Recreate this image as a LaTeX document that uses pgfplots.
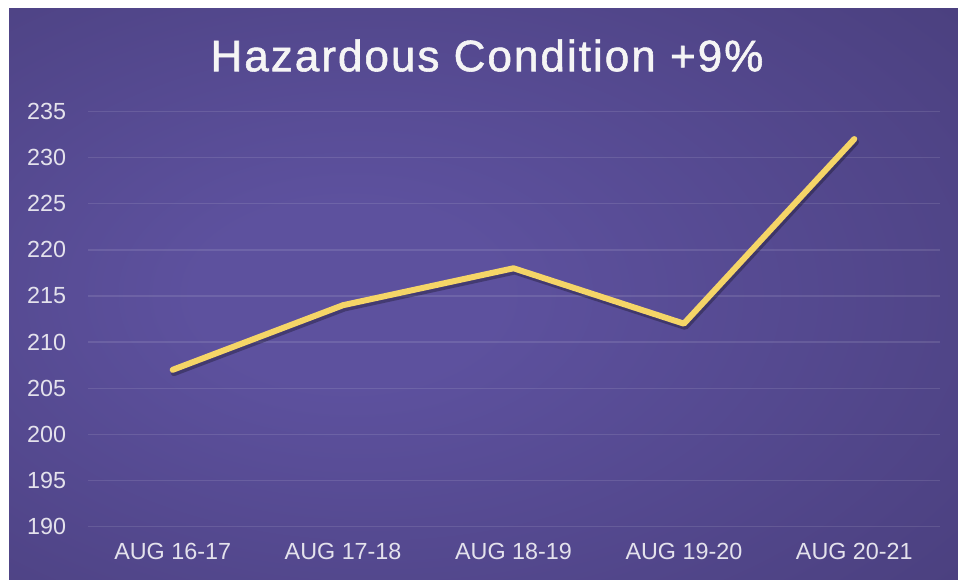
\documentclass[border=0pt]{standalone}
\usepackage{fontspec}
\setmainfont{Liberation Sans}
\newfontfamily\titlefont[LetterSpace=4.6,FakeBold=1.3]{Liberation Sans}
\usepackage{pgfplots}
\pgfplotsset{compat=1.18}
\definecolor{bginner}{HTML}{5D519E}
\definecolor{bgouter}{HTML}{3D3368}
\definecolor{lineyellow}{HTML}{F5D567}
\definecolor{ticktext}{HTML}{E4E2EC}
\pgfdeclareradialshading{bgshade}{\pgfpoint{-8bp}{0bp}}{color(0bp)=(bginner); color(8bp)=(bginner); color(62bp)=(bgouter); color(80bp)=(bgouter)}
\begin{document}
\begin{tikzpicture}
\begin{scope}[x=0.75pt,y=-0.75pt]
  \fill[white] (0,0) rectangle (958,580);
  \shade[shading=bgshade] (9,9) rectangle (958,580);
  \node[text=white!96!black,font=\titlefont\fontsize{33}{38}\selectfont] at (487,55.5) {Hazardous Condition +9\%};
  \coordinate (sw) at (87.5,526.7);
\end{scope}
\begin{axis}[
  at={(sw)}, anchor=south west,
  scale only axis,
  width=639pt, height=311.5pt,
  xmin=-0.5, xmax=4.5,
  ymin=190, ymax=235,
  ytick={190,195,...,235},
  xtick={0,1,2,3,4},
  xticklabels={AUG 16-17,AUG 17-18,AUG 18-19,AUG 19-20,AUG 20-21},
  axis line style={draw=none},
  major tick length=0pt,
  ymajorgrids,
  grid style={white, opacity=0.11, line width=1.1pt},
  tick label style={text=ticktext, font=\fontsize{17.5}{20}\selectfont},
  yticklabel style={xshift=-12.5pt},
  xticklabel style={yshift=-9pt},
  /pgf/number format/assume math mode=true,
  clip=false,
]
\addplot[black, opacity=0.28, line width=5pt, line cap=round, line join=round, shift={(1pt,-2.2pt)}] coordinates {(0,207) (1,214) (2,218) (3,212) (4,232)};
\addplot[lineyellow, line width=4.5pt, line cap=round, line join=round] coordinates {(0,207) (1,214) (2,218) (3,212) (4,232)};
\end{axis}
\end{tikzpicture}
\end{document}
